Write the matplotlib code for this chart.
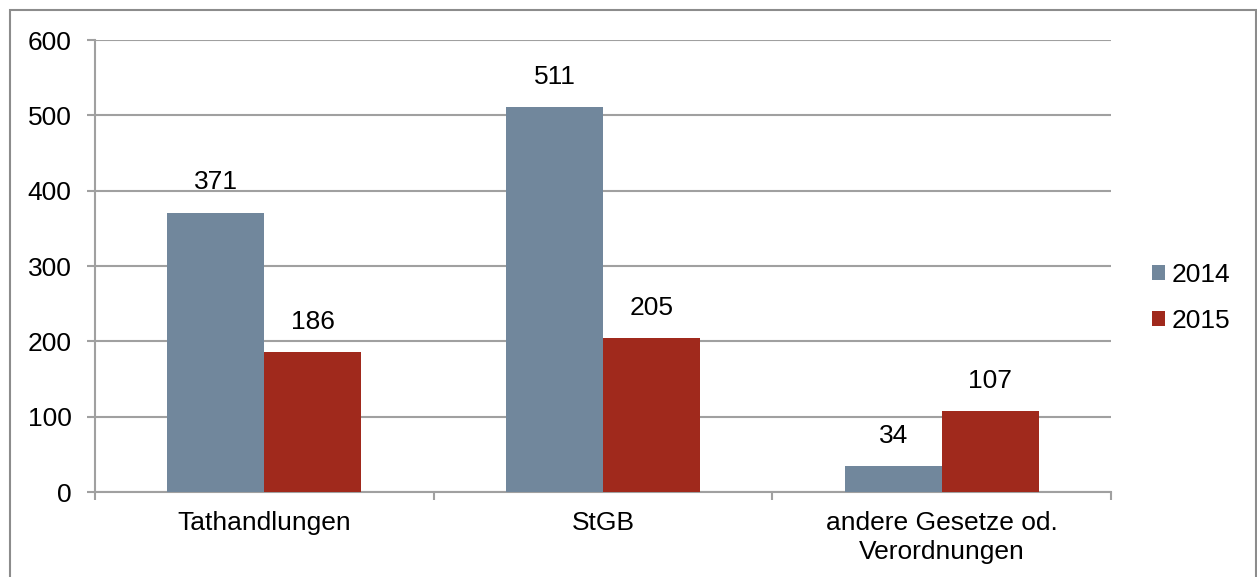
import matplotlib.pyplot as plt
import matplotlib.patches as mpatches
import numpy as np

plt.rcParams['font.family'] = ['Liberation Sans', 'DejaVu Sans']

categories = ['Tathandlungen', 'StGB', 'andere Gesetze od.\nVerordnungen']
years = ['2014', '2015']
values_2014 = [371, 511, 34]
values_2015 = [186, 205, 107]
colors = ['#71879C', '#A0291C']

fs = 19
fig = plt.figure(figsize=(12.57, 5.77), dpi=100)
ax = fig.add_axes([95 / 1257, 1 - 492 / 577, (1111 - 95) / 1257, (492 - 40) / 577])

# outer frame
fig.patches.append(mpatches.Rectangle((10 / 1257, -0.1), (1256 - 10) / 1257, 1.1 - 10 / 577,
                                      transform=fig.transFigure, fill=False,
                                      edgecolor='#8C8C8C', linewidth=1.5))

x = np.arange(len(categories))
w = 0.286
b1 = ax.bar(x - w / 2, values_2014, w, color=colors[0], label=years[0], zorder=3)
b2 = ax.bar(x + w / 2, values_2015, w, color=colors[1], label=years[1], zorder=3)

for bars in (b1, b2):
    for r in bars:
        ax.annotate(str(int(r.get_height())), (r.get_x() + r.get_width() / 2, r.get_height()),
                    xytext=(0, 13), textcoords='offset points', ha='center', va='bottom',
                    fontsize=fs)

ax.set_xlim(-0.5, 2.5)
ax.set_ylim(0, 600)
ax.set_yticks(range(0, 601, 100))
ax.yaxis.grid(True, color='#A0A0A0', linewidth=1.5, zorder=0)
ax.set_axisbelow(True)
ax.set_xticks(x)
ax.set_xticklabels(categories, fontsize=fs, linespacing=1.25)
ax.set_xticks([-0.5, 0.5, 1.5, 2.5], minor=True)
ax.tick_params(axis='x', which='major', length=0, pad=14)
ax.tick_params(axis='x', which='minor', length=6, width=1.5, color='#A0A0A0')
ax.tick_params(axis='y', length=6, width=1.5, color='#A0A0A0', labelsize=fs, pad=11)
for s in ['top', 'right']:
    ax.spines[s].set_visible(False)
for s in ['left', 'bottom']:
    ax.spines[s].set_color('#A0A0A0')
    ax.spines[s].set_linewidth(1.5)

fig.legend(loc='center left', bbox_to_anchor=(1128 / 1257, 1 - 298 / 577), frameon=False,
           fontsize=fs, handlelength=0.5, handleheight=0.5, handletextpad=0.25,
           labelspacing=0.85)

fig.savefig('out.png', dpi=100)
